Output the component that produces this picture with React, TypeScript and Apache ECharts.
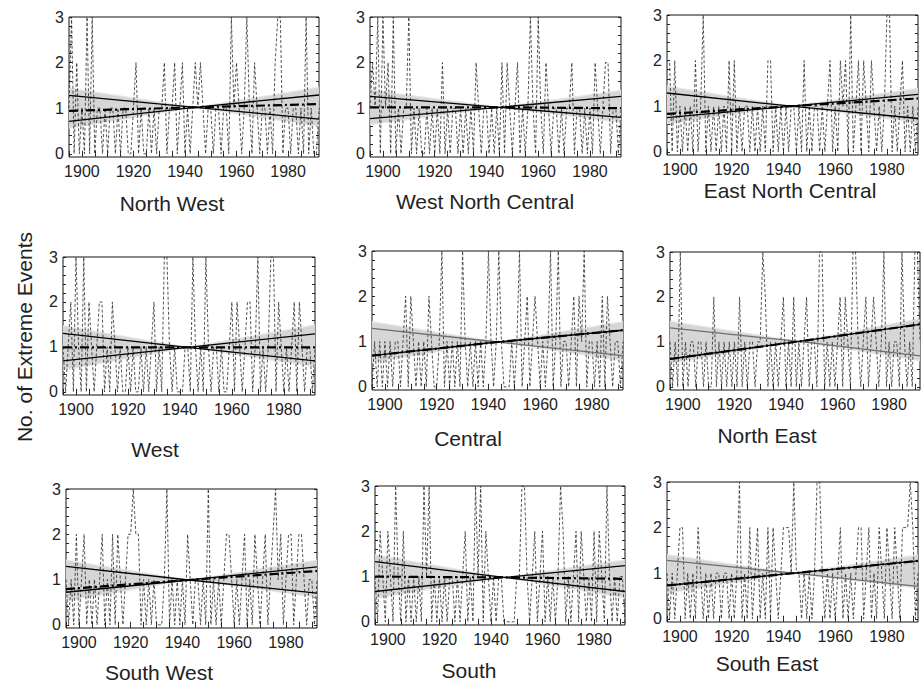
import React, { useEffect, useRef } from "react";
import * as echarts from "echarts";

const START_YEAR = 1895;
const X_MIN = 1895;
const X_MAX = 1992;
const Y_MIN = -0.07;
const Y_MAX = 3;

const regionNames = [
  "North West", "West North Central", "East North Central",
  "West", "Central", "North East",
  "South West", "South", "South East",
];

const yAxisTitle = "No. of Extreme Events";
const xTickLabels = [1900, 1920, 1940, 1960, 1980];
const yTickLabels = [0, 1, 2, 3];

// annual counts 1895..1992
const northWest = [1,3,0,2,0,1,0,3,0,3,0,1,1,0,1,0,1,1,0,1,0,1,1,0,0,1,2,0,1,0,0,1,0,1,0,1,1,2,0,1,1,2,0,1,2,0,1,0,1,2,1,2,1,0,1,1,0,1,1,0,1,1,0,3,1,2,1,0,1,3,1,0,2,1,0,1,1,0,1,0,2,3,3,0,1,1,0,1,1,0,1,0,3,0,1,0,0,1];
const westNorthCentral = [1,2,1,3,0,3,1,2,0,3,0,1,0,1,1,3,0,1,0,1,0,0,1,0,1,0,1,0,2,0,1,0,1,1,0,1,0,1,0,1,0,2,1,0,1,1,0,1,0,1,0,2,0,2,1,0,1,2,0,1,0,1,3,1,0,3,1,0,2,1,0,1,1,0,1,0,1,1,2,0,1,1,0,1,0,1,0,2,1,0,1,2,2,0,1,1,0,1];
const eastNorthCentral = [2,2,0,2,0,1,0,1,0,1,0,2,0,1,3,0,1,0,1,0,1,0,1,0,2,0,2,0,1,0,1,1,0,1,0,1,0,1,0,2,2,0,1,0,1,0,1,0,1,1,0,1,0,2,0,1,0,1,1,0,1,0,1,2,0,1,0,2,1,2,0,3,0,1,2,0,2,1,0,2,1,0,1,0,1,3,3,0,1,0,1,2,0,1,0,1,0,1];
const west = [1,0,1,2,0,3,1,0,3,0,2,1,0,1,2,2,0,1,0,2,1,0,1,0,0,1,0,1,0,0,1,0,1,0,1,2,0,1,0,3,3,1,0,1,0,0,0,1,1,0,3,1,0,1,0,3,1,0,1,1,0,1,0,0,1,2,0,2,1,0,1,2,2,0,1,3,0,1,0,1,3,3,0,2,1,0,1,0,1,2,0,2,1,0,1,1,0,1];
const central = [0,1,0,1,0,1,0,1,0,1,1,0,1,2,0,2,1,0,1,0,1,0,2,1,0,0,1,3,0,1,0,1,0,1,0,3,1,0,1,0,1,0,1,0,1,3,1,0,1,3,1,0,0,0,1,0,1,3,0,1,2,0,1,2,1,0,1,0,1,3,0,1,3,0,1,1,0,1,2,0,2,1,3,0,1,1,0,1,0,2,0,2,1,0,1,1,0,1];
const northEast = [1,0,1,0,3,0,1,0,1,1,0,1,1,0,1,0,0,2,0,1,0,1,0,1,0,1,0,2,0,1,0,1,1,0,1,1,3,2,0,1,0,1,0,1,2,0,1,0,2,0,1,0,1,2,0,1,1,0,3,3,0,1,0,1,0,1,2,0,2,1,0,3,3,1,0,1,2,0,1,2,1,0,1,3,0,1,0,1,1,0,3,1,0,1,0,3,3,1];
const southWest = [1,0,1,0,2,0,1,2,0,1,0,1,0,1,2,0,1,0,2,0,2,1,0,1,2,2,3,2,2,0,1,0,1,0,1,0,0,0,1,3,0,1,0,1,0,1,0,2,1,0,1,1,0,1,0,3,0,1,0,1,0,1,2,2,1,0,1,0,1,2,0,1,0,2,1,0,1,2,0,1,2,3,1,2,0,1,2,2,0,1,2,2,1,0,1,1,0,1];
const south = [1,0,2,1,0,2,1,0,3,1,0,2,0,1,0,1,0,1,0,3,1,3,0,1,0,1,0,1,0,1,1,0,1,0,1,2,0,1,0,3,1,3,0,2,1,0,1,0,1,1,0,0,0,0,0,1,1,3,3,1,0,1,2,0,1,2,0,1,0,1,0,1,3,2,0,1,0,1,2,0,2,1,0,1,0,2,0,2,1,0,3,1,0,1,0,1,1,0];
const southEast = [1,0,1,0,1,2,2,0,1,0,1,0,2,1,0,1,0,1,0,1,1,0,1,1,0,1,0,1,3,0,1,0,2,0,1,2,0,1,0,2,0,2,1,0,1,2,2,2,1,3,1,1,0,1,0,1,0,1,3,3,1,0,1,0,1,0,1,2,0,1,0,1,0,1,2,2,0,1,2,0,1,0,2,1,0,2,1,0,2,1,0,2,2,2,3,2,0,1];

const regionSeries = [northWest, westNorthCentral, eastNorthCentral, west, central, northEast, southWest, south, southEast];

// trend lines: [value at X_MIN, value at X_MAX]
const crossYear = [1944, 1945, 1943, 1943, 1943.5, 1945, 1942.5, 1945, 1944];
const crossValue = [1.02, 1.02, 1.0, 0.99, 0.99, 1.01, 0.99, 0.98, 1.0];
const decreasingLine = [[1.28,0.76],[1.26,0.80],[1.29,0.73],[1.30,0.69],[1.29,0.69],[1.31,0.69],[1.29,0.70],[1.33,0.67],[1.28,0.71]];
const increasingLine = [[0.71,1.29],[0.77,1.26],[0.75,1.26],[0.69,1.29],[0.69,1.25],[0.62,1.39],[0.72,1.28],[0.67,1.24],[0.73,1.27]];
const meanTrend = [[0.94,1.09],[1.02,1.0],[0.83,1.17],[0.99,0.99],[0.69,1.25],[0.62,1.39],[0.79,1.19],[1.0,0.95],[0.73,1.27]];
const bandLow = [[0.56,0.60],[0.64,0.69],[0.62,0.64],[0.48,0.56],[0.54,0.58],[0.52,0.58],[0.53,0.61],[0.52,0.53],[0.56,0.67]];
const bandHigh = [[1.44,1.46],[1.40,1.39],[1.44,1.39],[1.47,1.49],[1.44,1.44],[1.46,1.52],[1.43,1.43],[1.48,1.37],[1.41,1.40]];
const greyDecreasing = [false, false, false, false, true, true, false, false, true];

// layout (pixels)
const gridBoxes = [
  { left: 69, top: 17, width: 250, height: 140 },
  { left: 370, top: 17, width: 251, height: 140 },
  { left: 667, top: 15, width: 251, height: 140 },
  { left: 63, top: 257, width: 252, height: 138 },
  { left: 372, top: 251, width: 251, height: 139 },
  { left: 670, top: 252, width: 250, height: 138 },
  { left: 66, top: 489, width: 251, height: 139 },
  { left: 375, top: 486, width: 250, height: 139 },
  { left: 667, top: 482, width: 251, height: 140 },
];
const titlePos = [
  [172, 203], [485, 201], [790, 190],
  [155, 449], [468, 438], [767, 435],
  [159, 672], [469, 670], [767, 663],
];

const FONT = "'Liberation Sans', Arial, Helvetica, sans-serif";

function buildOption() {
  const grid: any[] = [];
  const xAxis: any[] = [];
  const yAxis: any[] = [];
  const series: any[] = [];
  const graphic: any[] = [];
  const minorX: number[] = [];
  for (let y = X_MIN; y <= X_MAX; y += 5) minorX.push(y);
  const minorY: number[] = [];
  for (let k = 0; k <= 15; k++) minorY.push(Math.round(k * 0.2 * 10) / 10);

  regionSeries.forEach((vals, i) => {
    const g = gridBoxes[i];
    grid.push({ ...g, show: true, borderColor: "#111", borderWidth: 1, backgroundColor: "transparent", containLabel: false });
    const xb = 2 * i;
    const yb = 2 * i;
    xAxis.push({
      gridIndex: i, type: "value", min: X_MIN, max: X_MAX, position: "bottom",
      axisLine: { show: false }, splitLine: { show: false },
      axisTick: { show: true, inside: true, length: 3, customValues: minorX, lineStyle: { color: "#222" } },
      axisLabel: { customValues: xTickLabels, formatter: (v: number) => String(v), fontSize: 16, color: "#222", margin: 6, fontFamily: FONT },
    });
    xAxis.push({
      gridIndex: i, type: "value", min: X_MIN, max: X_MAX, position: "top",
      axisLine: { show: false }, splitLine: { show: false },
      axisTick: { show: true, inside: true, length: 3, customValues: minorX, lineStyle: { color: "#222" } },
      axisLabel: { show: false },
    });
    yAxis.push({
      gridIndex: i, type: "value", min: Y_MIN, max: Y_MAX, position: "left",
      axisLine: { show: false }, splitLine: { show: false },
      axisTick: { show: true, inside: true, length: 3, customValues: minorY, lineStyle: { color: "#222" } },
      axisLabel: { customValues: yTickLabels, formatter: (v: number) => String(v), fontSize: 16, color: "#222", margin: 5, fontFamily: FONT },
    });
    yAxis.push({
      gridIndex: i, type: "value", min: Y_MIN, max: Y_MAX, position: "right",
      axisLine: { show: false }, splitLine: { show: false },
      axisTick: { show: true, inside: true, length: 3, customValues: minorY, lineStyle: { color: "#222" } },
      axisLabel: { show: false },
    });

    const cx = crossYear[i];
    const cv = crossValue[i];
    const lo = bandLow[i];
    const hi = bandHigh[i];
    const ax = { xAxisIndex: xb, yAxisIndex: yb };

    series.push({
      type: "custom", ...ax, silent: true, clip: true,
      data: [[X_MIN, cv]],
      renderItem: (_p: any, api: any) => {
        const pts = [
          api.coord([X_MIN, hi[0]]), api.coord([cx, cv]), api.coord([X_MAX, hi[1]]),
          api.coord([X_MAX, lo[1]]), api.coord([cx, cv]), api.coord([X_MIN, lo[0]]),
        ];
        return { type: "polygon", shape: { points: pts }, style: { fill: "#d6d6d6", stroke: "none" } };
      },
    });
    const edge = (a: number[]) => ({
      type: "line", ...ax, symbol: "none", silent: true,
      data: [[X_MIN, a[0]], [cx, cv], [X_MAX, a[1]]],
      lineStyle: { color: "#e8e8e8", width: 1.2 },
    });
    series.push(edge(lo));
    series.push(edge(hi));
    series.push({
      type: "line", ...ax, symbol: "none", silent: true,
      data: vals.map((v, k) => [START_YEAR + k, v]),
      lineStyle: { color: "#2a2a2a", width: 0.8, type: [3, 2] },
    });
    const dec = decreasingLine[i];
    const inc = increasingLine[i];
    series.push({
      type: "line", ...ax, symbol: "none", silent: true,
      data: [[X_MIN, dec[0]], [cx, cv], [X_MAX, dec[1]]],
      lineStyle: { color: greyDecreasing[i] ? "#6e6e6e" : "#000", width: 1.3 },
    });
    series.push({
      type: "line", ...ax, symbol: "none", silent: true,
      data: [[X_MIN, inc[0]], [cx, cv], [X_MAX, inc[1]]],
      lineStyle: { color: "#000", width: 1.3 },
    });
    const mt = meanTrend[i];
    series.push({
      type: "line", ...ax, symbol: "none", silent: true,
      data: [[X_MIN, mt[0]], [cx, cv], [X_MAX, mt[1]]],
      lineStyle: { color: "#000", width: 2.2, type: [9, 3, 2, 3] },
    });

    graphic.push({
      type: "text", x: titlePos[i][0], y: titlePos[i][1], silent: true,
      style: { text: regionNames[i], font: `21px ${FONT}`, fill: "#222", textAlign: "center", textVerticalAlign: "middle" },
    });
  });

  graphic.push({
    type: "text", x: 24, y: 337, rotation: Math.PI / 2, silent: true,
    style: { text: yAxisTitle, font: `21px ${FONT}`, fill: "#222", textAlign: "center", textVerticalAlign: "middle" },
  });

  return { animation: false, backgroundColor: "#fff", grid, xAxis, yAxis, series, graphic };
}

export default function App() {
  const ref = useRef<HTMLDivElement>(null);
  useEffect(() => {
    if (!ref.current) return;
    const chart = echarts.init(ref.current, null, { renderer: "svg" });
    chart.setOption(buildOption());
    return () => chart.dispose();
  }, []);
  return <div ref={ref} style={{ position: "fixed", left: 0, top: 0, width: 922, height: 682, background: "#fff" }} />;
}
